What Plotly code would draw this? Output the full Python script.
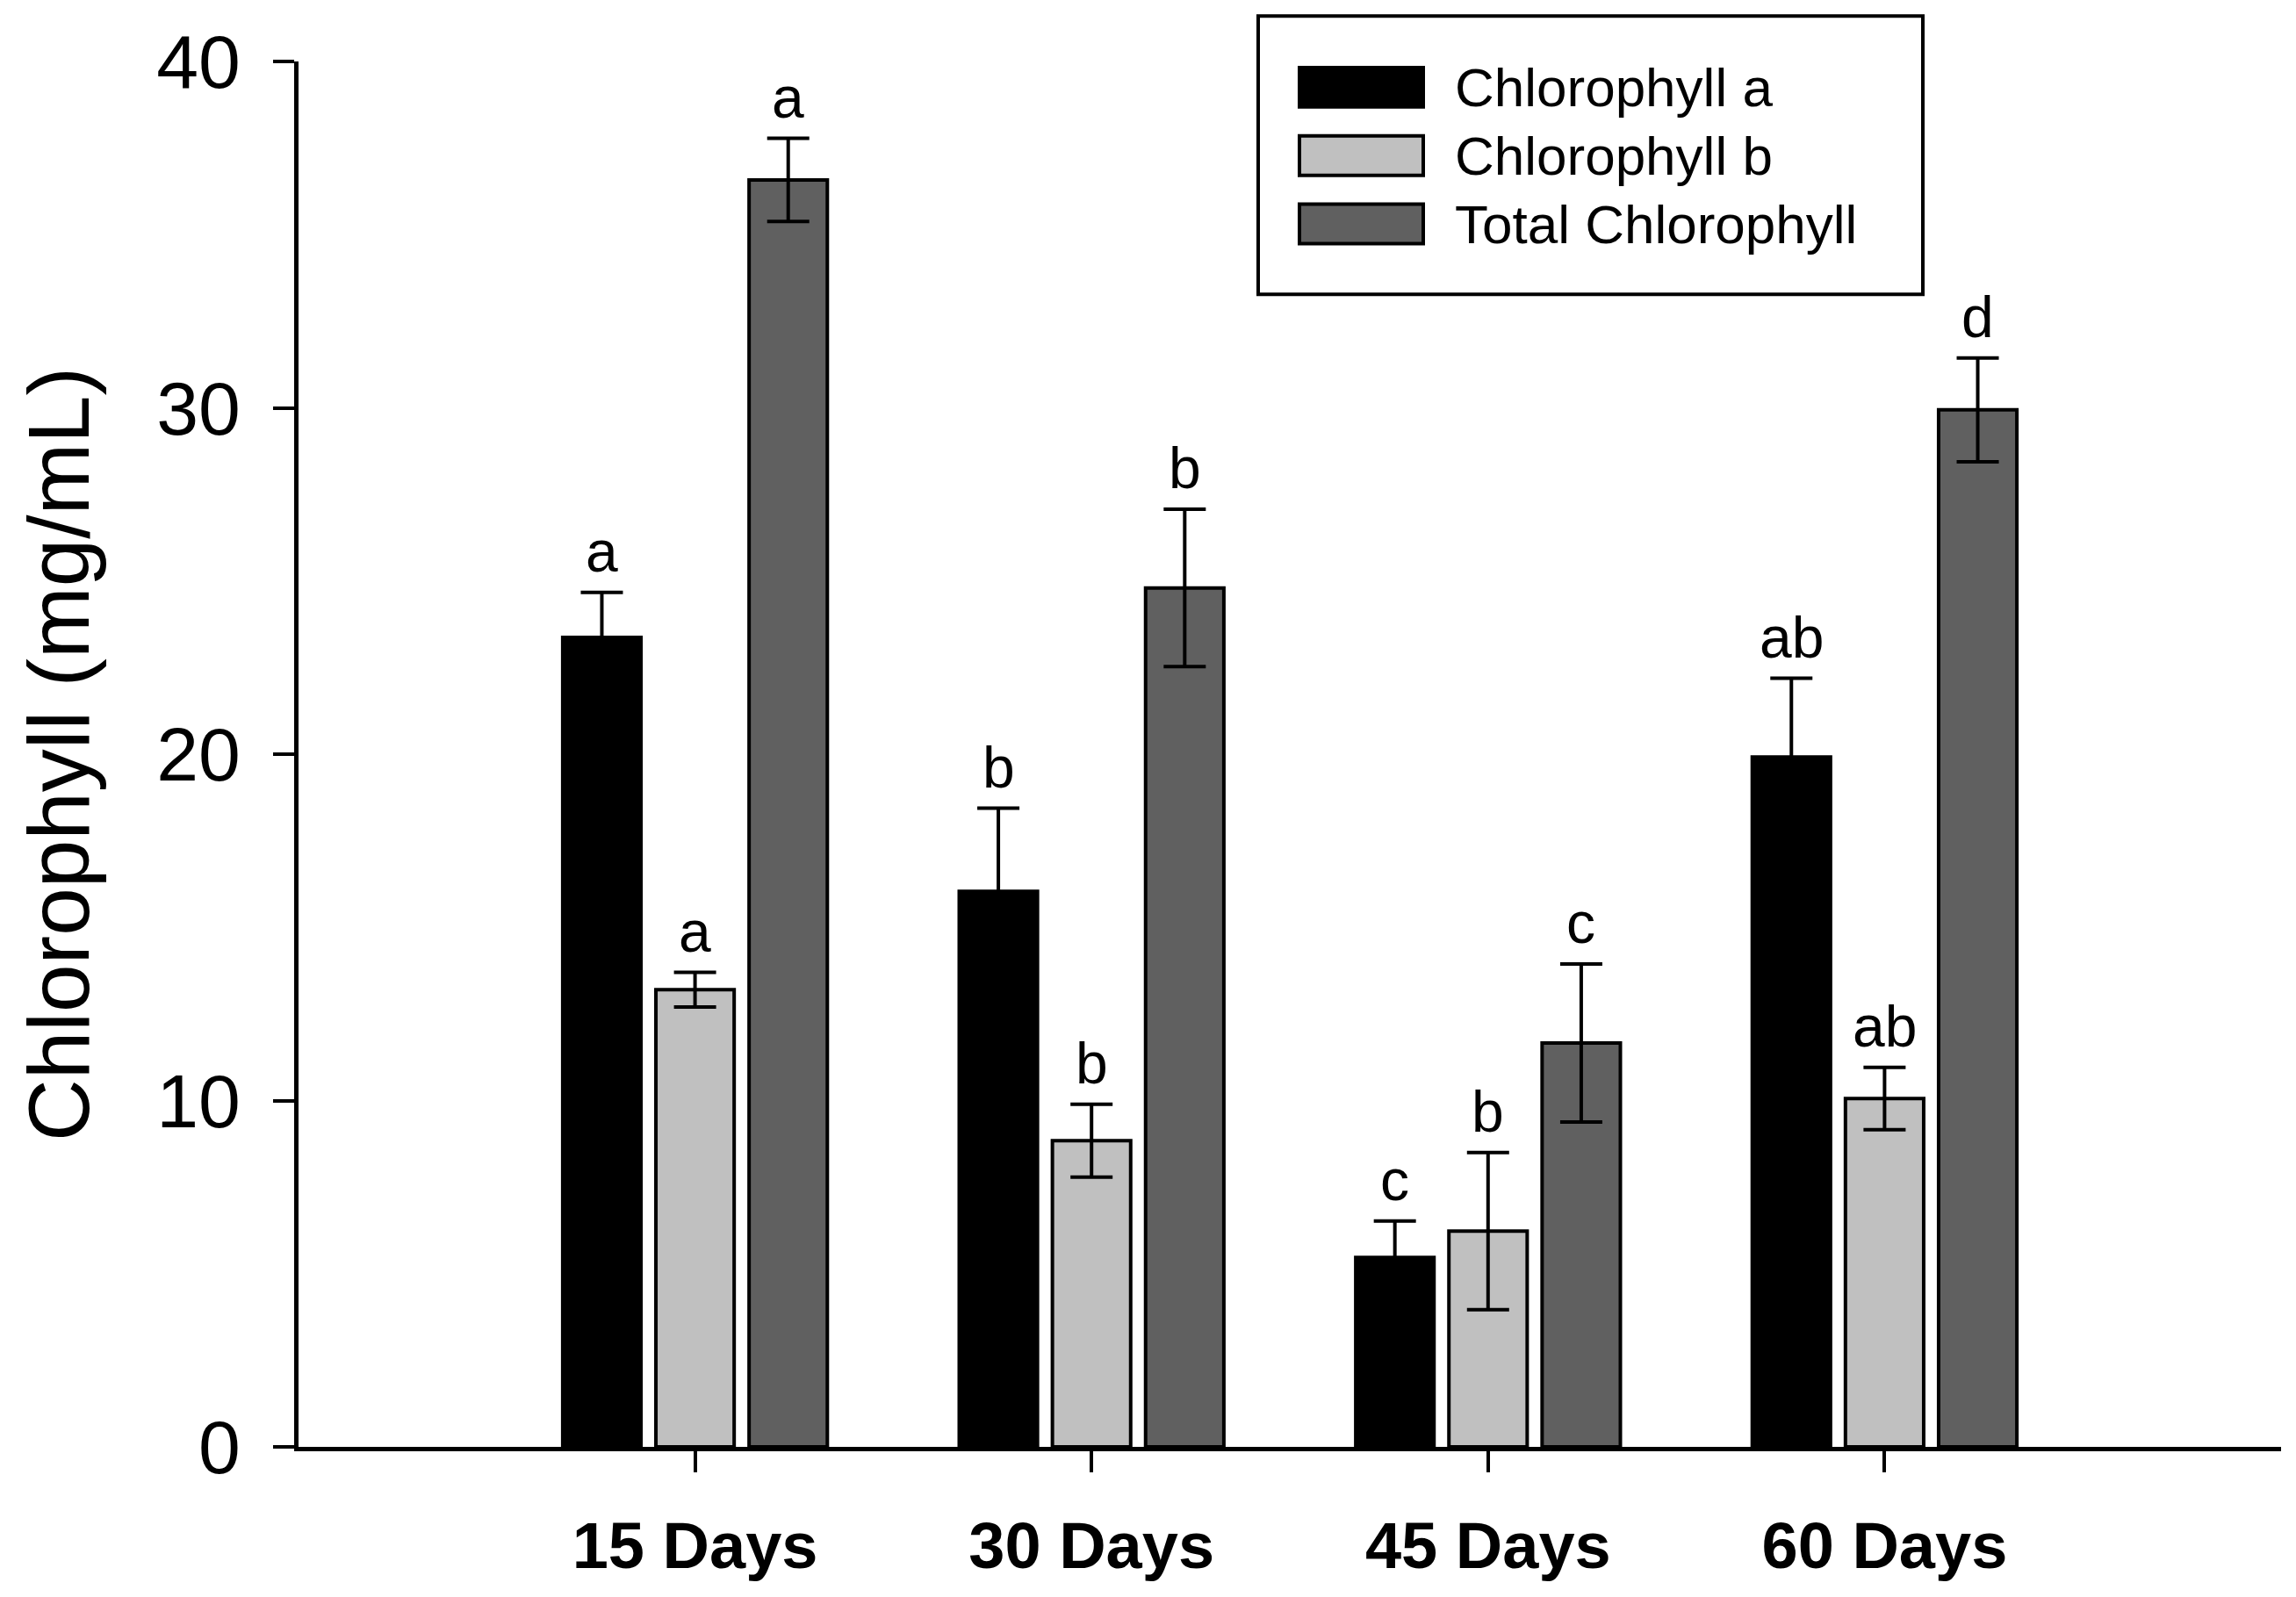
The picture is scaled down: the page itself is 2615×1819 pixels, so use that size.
import plotly.graph_objects as go

# data (mg/mL, mean and error)
days = ["15 Days", "30 Days", "45 Days", "60 Days"]
series_names = ["Chlorophyll a", "Chlorophyll b", "Total Chlorophyll"]

chl_a = [23.37, 16.04, 5.47, 19.92]
chl_a_err = [1.3, 2.4, 1.05, 2.27]
chl_b = [13.2, 8.84, 6.23, 10.06]
chl_b_err = [0.5, 1.05, 2.27, 0.9]
chl_total = [36.58, 24.8, 11.66, 29.94]
chl_total_err = [1.2, 2.27, 2.28, 1.5]

letters_a = ["a", "b", "c", "ab"]
letters_b = ["a", "b", "b", "ab"]
letters_total = ["a", "b", "c", "d"]

y_ticks = [0, 10, 20, 30, 40]

colors = ["#000000", "#c0c0c0", "#606060"]
FONT = "Arial, Liberation Sans, sans-serif"

# the page body has an 8px margin, so the figure is a bit smaller than the window
BODY = 8
W, H = 2615 - 2 * BODY, 1819 - 2 * BODY
# plot area in page pixels: x 340..2598, y 70..1652
ML, MT = 340 - BODY, 70 - BODY
MR, MB = W - (2598 - BODY), H - (1652 - BODY)
BARGAP = 0.295

means = [chl_a, chl_b, chl_total]
errs = [chl_a_err, chl_b_err, chl_total_err]
letters = [letters_a, letters_b, letters_total]
xs = list(range(len(days)))

fig = go.Figure()
for name, y, e, c in zip(series_names, means, errs, colors):
    fig.add_trace(go.Bar(
        x=xs, y=y, name=name,
        marker=dict(color=c, line=dict(color="black", width=4)),
        error_y=dict(type="data", array=e, visible=True, color="black",
                     thickness=4, width=24),
    ))

# significance letters above the error bars
slot = (1 - BARGAP) / len(series_names)
annotations = []
for k, (y, e, lab) in enumerate(zip(means, errs, letters)):
    off = (k - 1) * slot
    for i in xs:
        annotations.append(dict(
            x=i + off, y=y[i] + e[i], xref="x", yref="y", text=lab[i],
            showarrow=False, yanchor="bottom", yshift=8,
            font=dict(family=FONT, size=66, color="black"),
        ))


def px_x(p):
    # page pixel -> paper x
    return (p - BODY - ML) / (W - ML - MR)


def px_y(p):
    # page pixel -> paper y
    return (H - MB - (p - BODY)) / (H - MT - MB)


# y axis title
annotations.append(dict(
    x=px_x(67), y=0.5, xref="paper", yref="paper",
    text="Chlorophyll (mg/mL)", textangle=-90, showarrow=False,
    xanchor="center", yanchor="middle",
    font=dict(family=FONT, size=98, color="black"),
))

# legend drawn by hand so the swatches can be wide
shapes = [dict(type="rect", xref="paper", yref="paper",
               x0=px_x(1433), x1=px_x(2190), y0=px_y(336), y1=px_y(18),
               line=dict(color="black", width=4), fillcolor="white", layer="above")]
row_tops = [75, 153, 231]
for name, c, top in zip(series_names, colors, row_tops):
    shapes.append(dict(type="rect", xref="paper", yref="paper",
                       x0=px_x(1480), x1=px_x(1621), y0=px_y(top + 47), y1=px_y(top + 2),
                       line=dict(color="black", width=4), fillcolor=c, layer="above"))
    annotations.append(dict(
        x=px_x(1655), y=px_y(top + 25), xref="paper", yref="paper",
        text=name, showarrow=False, xanchor="left", yanchor="middle",
        font=dict(family=FONT, size=62, color="black"),
    ))

fig.update_layout(
    width=W, height=H,
    margin=dict(l=ML, r=MR, t=MT, b=MB),
    barmode="group", bargap=BARGAP, bargroupgap=0.16,
    plot_bgcolor="white", paper_bgcolor="white",
    showlegend=False,
    annotations=annotations, shapes=shapes,
    font=dict(family=FONT, color="black"),
)
fig.update_xaxes(
    range=[-1, 4], tickvals=xs, ticktext=days,
    showline=True, linecolor="black", linewidth=5,
    ticks="outside", ticklen=24, tickwidth=4, tickcolor="black",
    tickfont=dict(family=FONT, size=74, color="black", weight="bold"),
    ticklabelstandoff=20,
    showgrid=False, zeroline=False,
)
fig.update_yaxes(
    range=[0, 40], tickvals=y_ticks,
    showline=True, linecolor="black", linewidth=5,
    ticks="outside", ticklen=24, tickwidth=4, tickcolor="black",
    tickfont=dict(family=FONT, size=86, color="black"),
    ticklabelstandoff=20,
    showgrid=False, zeroline=False,
)

fig.write_html("out.html")
